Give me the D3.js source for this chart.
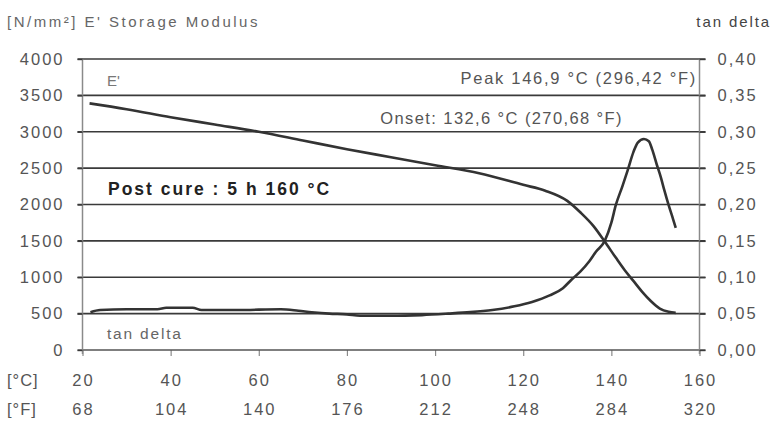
<!DOCTYPE html>
<html>
<head>
<meta charset="utf-8">
<script src="https://cdn.jsdelivr.net/npm/d3@7"></script>
<style>
  html, body { margin: 0; padding: 0; background: #fff; }
  svg { display: block; font-family: "Liberation Sans", Arial, sans-serif; }
</style>
</head>
<body>
<svg id="chart" width="772" height="421"></svg>
<script>
// ---- data ----
const tempC = [20, 40, 60, 80, 100, 120, 140, 160];
const tempF = ["68", "104", "140", "176", "212", "248", "284", "320"];
const modulusTicks = [0, 500, 1000, 1500, 2000, 2500, 3000, 3500, 4000];
const tanTicks = [0, 0.05, 0.10, 0.15, 0.20, 0.25, 0.30, 0.35, 0.40];

const storageT = [21.6, 30, 40, 50, 60, 70, 80, 90, 100, 110, 120, 125, 130, 133, 136, 138.5, 141, 143, 145, 147, 149, 151, 153, 154.6];
const storageE = [3390, 3310, 3200, 3100, 3000, 2880, 2760, 2650, 2540, 2430, 2270, 2190, 2050, 1890, 1700, 1490, 1270, 1100, 950, 800, 670, 570, 525, 510];

const tanT = [21.8, 24, 30, 37, 39, 45, 47, 55, 65, 69, 72, 76, 80, 83, 90, 97, 103, 108, 113, 118, 122, 126, 129, 131, 133, 135, 136.5, 138.5, 140, 141, 142.5, 143.7, 145, 146, 147.4, 148.5, 149.3, 150.3, 151.2, 152, 153, 154, 154.6];
const tanD = [0.052, 0.055, 0.056, 0.056, 0.058, 0.058, 0.055, 0.055, 0.056, 0.054, 0.052, 0.050, 0.049, 0.047, 0.047, 0.048, 0.050, 0.052, 0.055, 0.060, 0.066, 0.075, 0.085, 0.097, 0.108, 0.122, 0.135, 0.150, 0.175, 0.199, 0.225, 0.247, 0.272, 0.285, 0.290, 0.287, 0.275, 0.255, 0.238, 0.220, 0.199, 0.180, 0.168];

// ---- layout ----
const svg = d3.select("#chart");
const x = d3.scaleLinear().domain([20, 160]).range([82.5, 699.5]);
const y = d3.scaleLinear().domain([0, 4000]).range([350, 59]);
const y2 = d3.scaleLinear().domain([0, 0.4]).range([350, 59]);

const gridColor = "#3a3a3a";
const axisColor = "#8a8a8a";
const textColor = "#555";
const numSize = 16.5, numSpacing = 2;

// gridlines
svg.append("g").selectAll("line")
  .data(modulusTicks.filter(d => d > 0))
  .join("line")
  .attr("x1", x(20) - 5).attr("x2", x(160) + 6)
  .attr("y1", d => y(d)).attr("y2", d => y(d))
  .attr("stroke", gridColor).attr("stroke-width", 1.7);

// bottom axis
const xAxis = svg.append("g").attr("transform", `translate(0,${y(0)})`)
  .call(d3.axisBottom(x).tickValues(tempC).tickSize(6).tickFormat(""));
xAxis.select(".domain").remove();
xAxis.selectAll(".tick line").attr("stroke", axisColor).attr("stroke-width", 1.2);
svg.append("line").attr("x1", x(20) - 5).attr("x2", x(160) + 6)
  .attr("y1", y(0)).attr("y2", y(0)).attr("stroke", "#555").attr("stroke-width", 1.4);

// left axis
const yAxis = svg.append("g").attr("transform", `translate(${x(20)},0)`)
  .call(d3.axisLeft(y).tickValues(modulusTicks).tickSize(5).tickPadding(10).tickFormat(d3.format("d")));
yAxis.select(".domain").attr("stroke", axisColor).attr("stroke-width", 1.5).attr("d", `M0,${y(4000)}V${y(0) + 4}`);
yAxis.selectAll(".tick line").attr("stroke", gridColor).attr("stroke-width", 1.4);
yAxis.selectAll(".tick text").attr("fill", textColor).attr("font-size", numSize).attr("letter-spacing", numSpacing)
  .attr("dx", -3);

// right axis
const y2Axis = svg.append("g").attr("transform", `translate(${x(160)},0)`)
  .call(d3.axisRight(y2).tickValues(tanTicks).tickSize(6).tickPadding(12)
    .tickFormat(d => d.toFixed(2).replace(".", ",")));
y2Axis.select(".domain").attr("stroke", axisColor).attr("stroke-width", 1.5).attr("d", `M0,${y2(0.4)}V${y2(0) + 4}`);
y2Axis.selectAll(".tick line").attr("stroke", gridColor).attr("stroke-width", 1.4);
y2Axis.selectAll(".tick text").attr("fill", textColor).attr("font-size", numSize).attr("letter-spacing", numSpacing);

// x tick labels (°C and °F rows)
svg.append("g").selectAll("text").data(tempC).join("text")
  .attr("x", d => x(d) + 1).attr("y", 386)
  .attr("text-anchor", "middle").attr("fill", textColor)
  .attr("font-size", numSize).attr("letter-spacing", numSpacing).text(d => d);
svg.append("g").selectAll("text").data(tempF).join("text")
  .attr("x", (d, i) => x(tempC[i]) + 1).attr("y", 415)
  .attr("text-anchor", "middle").attr("fill", textColor)
  .attr("font-size", numSize).attr("letter-spacing", numSpacing).text(d => d);
svg.append("text").attr("x", 7).attr("y", 386).attr("fill", textColor)
  .attr("font-size", numSize).attr("letter-spacing", 1).text("[°C]");
svg.append("text").attr("x", 7).attr("y", 415).attr("fill", textColor)
  .attr("font-size", numSize).attr("letter-spacing", 1).text("[°F]");

// axis titles
svg.append("text").attr("x", 7).attr("y", 27).attr("fill", "#666")
  .attr("font-size", 15).attr("letter-spacing", 2.5).text("[N/mm²] E' Storage Modulus");
svg.append("text").attr("x", 771).attr("y", 27).attr("text-anchor", "end").attr("fill", "#444")
  .attr("font-size", 15).attr("letter-spacing", 1.9).text("tan delta");

// curves
const lineE = d3.line().x((d, i) => x(storageT[i])).y(d => y(d)).curve(d3.curveMonotoneX);
const lineT = d3.line().x((d, i) => x(tanT[i])).y(d => y2(d)).curve(d3.curveMonotoneX);
svg.append("path").attr("d", lineE(storageE)).attr("fill", "none")
  .attr("stroke", "#333").attr("stroke-width", 2.6).attr("stroke-linejoin", "round");
svg.append("path").attr("d", lineT(tanD)).attr("fill", "none")
  .attr("stroke", "#333").attr("stroke-width", 2.6).attr("stroke-linejoin", "round");

// annotations
svg.append("text").attr("x", 107).attr("y", 86).attr("fill", "#777")
  .attr("font-size", 15).text("E'");
svg.append("text").attr("x", 697).attr("y", 84).attr("text-anchor", "end").attr("fill", "#555")
  .attr("font-size", 16.5).attr("letter-spacing", 1.7).text("Peak 146,9 °C (296,42 °F)");
svg.append("text").attr("x", 623).attr("y", 124).attr("text-anchor", "end").attr("fill", "#555")
  .attr("font-size", 16.5).attr("letter-spacing", 1.4).text("Onset: 132,6 °C (270,68 °F)");
svg.append("text").attr("x", 108).attr("y", 195).attr("fill", "#222")
  .attr("font-size", 17.5).attr("font-weight", "bold").attr("letter-spacing", 2).text("Post cure : 5 h 160 °C");
svg.append("text").attr("x", 107).attr("y", 339).attr("fill", "#666")
  .attr("font-size", 15.5).attr("letter-spacing", 1.8).text("tan delta");
</script>
</body>
</html>
